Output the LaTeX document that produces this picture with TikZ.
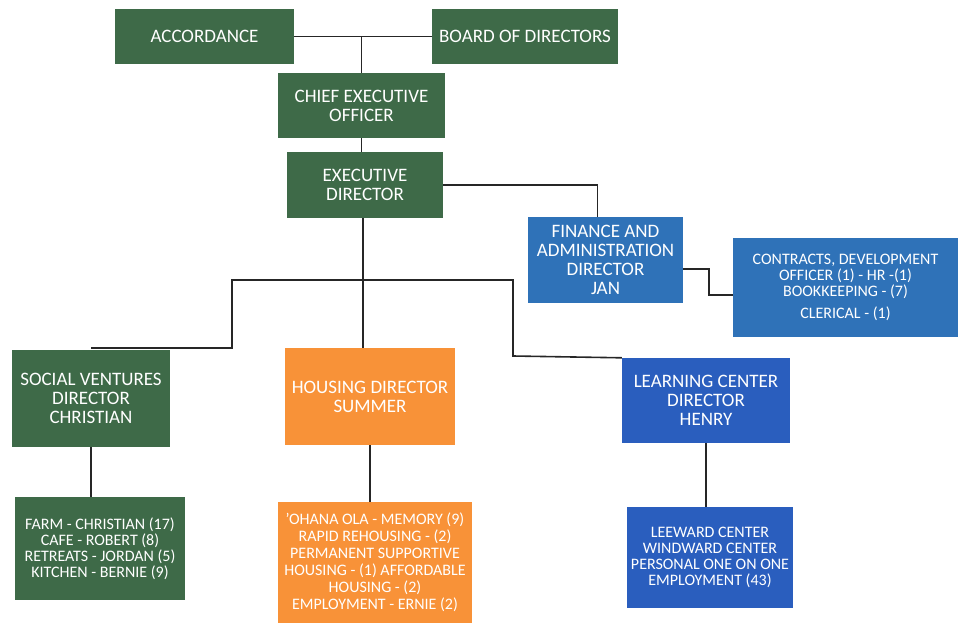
\documentclass[tikz,border=0pt]{standalone}
\usepackage{fontspec}
\setmainfont{Carlito}
\usetikzlibrary{positioning}

\definecolor{orgreen}{RGB}{62,106,72}
\definecolor{ororange}{RGB}{248,146,56}
\definecolor{orblue}{RGB}{47,114,184}
\definecolor{orroyal}{RGB}{42,94,190}

\begin{document}
\begin{tikzpicture}[x=1pt, y=-1pt,
    orgbox/.style={rectangle, inner sep=0pt, align=center, text=white, font=\fontsize{19}{19}\selectfont},
    smallbox/.style={orgbox, font=\fontsize{16}{16}\selectfont},
    greenbox/.style={fill=orgreen},
    orangebox/.style={fill=ororange},
    bluebox/.style={fill=orblue},
    royalbox/.style={fill=orroyal},
    link/.style={draw=black!85, line width=1.6pt}]
    \useasboundingbox (0,0) rectangle (958,623);

    \node (acc) at (204.5,36.5) [orgbox, greenbox, minimum width=179, minimum height=55] {ACCORDANCE};
    \node (bod) at (525,36.5) [orgbox, greenbox, minimum width=186, minimum height=55] {BOARD OF DIRECTORS};
    \node (ceo) at (361.5,105.5) [orgbox, greenbox, minimum width=167, minimum height=65] {CHIEF EXECUTIVE\\OFFICER};
    \node (exec) at (365,185) [orgbox, greenbox, minimum width=156, minimum height=66] {EXECUTIVE\\DIRECTOR};

    \node (fin) at (605.5,260) [orgbox, bluebox, minimum width=155, minimum height=86] {FINANCE AND\\ADMINISTRATION\\DIRECTOR\\JAN};
    \node (con) at (845.5,287.5) [smallbox, bluebox, minimum width=225, minimum height=99] {CONTRACTS, DEVELOPMENT\\OFFICER (1) - HR -(1)\\BOOKKEEPING - (7)\\[6pt]CLERICAL - (1)};

    \node (soc) at (91,398.5) [orgbox, greenbox, minimum width=158, minimum height=97] {SOCIAL VENTURES\\DIRECTOR\\CHRISTIAN};
    \node (hous) at (370,396.5) [orgbox, orangebox, minimum width=170, minimum height=97] {HOUSING DIRECTOR\\SUMMER};
    \node (learn) at (706,400.5) [orgbox, royalbox, minimum width=168, minimum height=85] {LEARNING CENTER\\DIRECTOR\\HENRY};

    \node (farm) at (100,548.5) [smallbox, greenbox, minimum width=170, minimum height=103] {FARM - CHRISTIAN (17)\\CAFE - ROBERT (8)\\RETREATS - JORDAN (5)\\KITCHEN - BERNIE (9)};
    \node (hsub) at (375,562.5) [smallbox, orangebox, minimum width=194, minimum height=121, font=\fontsize{16}{17}\selectfont] {'OHANA OLA - MEMORY (9)\\RAPID REHOUSING - (2)\\PERMANENT SUPPORTIVE\\HOUSING - (1) AFFORDABLE\\HOUSING - (2)\\EMPLOYMENT - ERNIE (2)};
    \node (lsub) at (710,557.5) [smallbox, royalbox, minimum width=166, minimum height=101] {LEEWARD CENTER\\WINDWARD CENTER\\PERSONAL ONE ON ONE\\EMPLOYMENT (43)};

    \coordinate (hub) at (363,280);
    \coordinate (lj) at (232,348);
    \coordinate (rj) at (513,356);
    \coordinate (fj) at (709,282);

    \draw [link] (acc) -- (bod);
    \draw [link] (ceo.north) -- (ceo.north |- acc.east);
    \draw [link] (ceo.south) -- (ceo.south |- exec.north);
    \draw [link] (exec.east) -| ([xshift=-8]fin.north);
    \draw [link] (fin.east |- 0,269) -| (fj) |- (con.west |- 0,295);
    \draw [link] (exec.south -| hub) -- (hub |- hous.north);
    \draw [link] (lj -| soc.north) -- (lj) |- (hub) -| (rj) -- (learn.north west);
    \draw [link] (soc.south) -- (soc.south |- farm.north);
    \draw [link] (hous.south) -- (hous.south |- hsub.north);
    \draw [link] (learn.south) -- (learn.south |- lsub.north);
\end{tikzpicture}
\end{document}
